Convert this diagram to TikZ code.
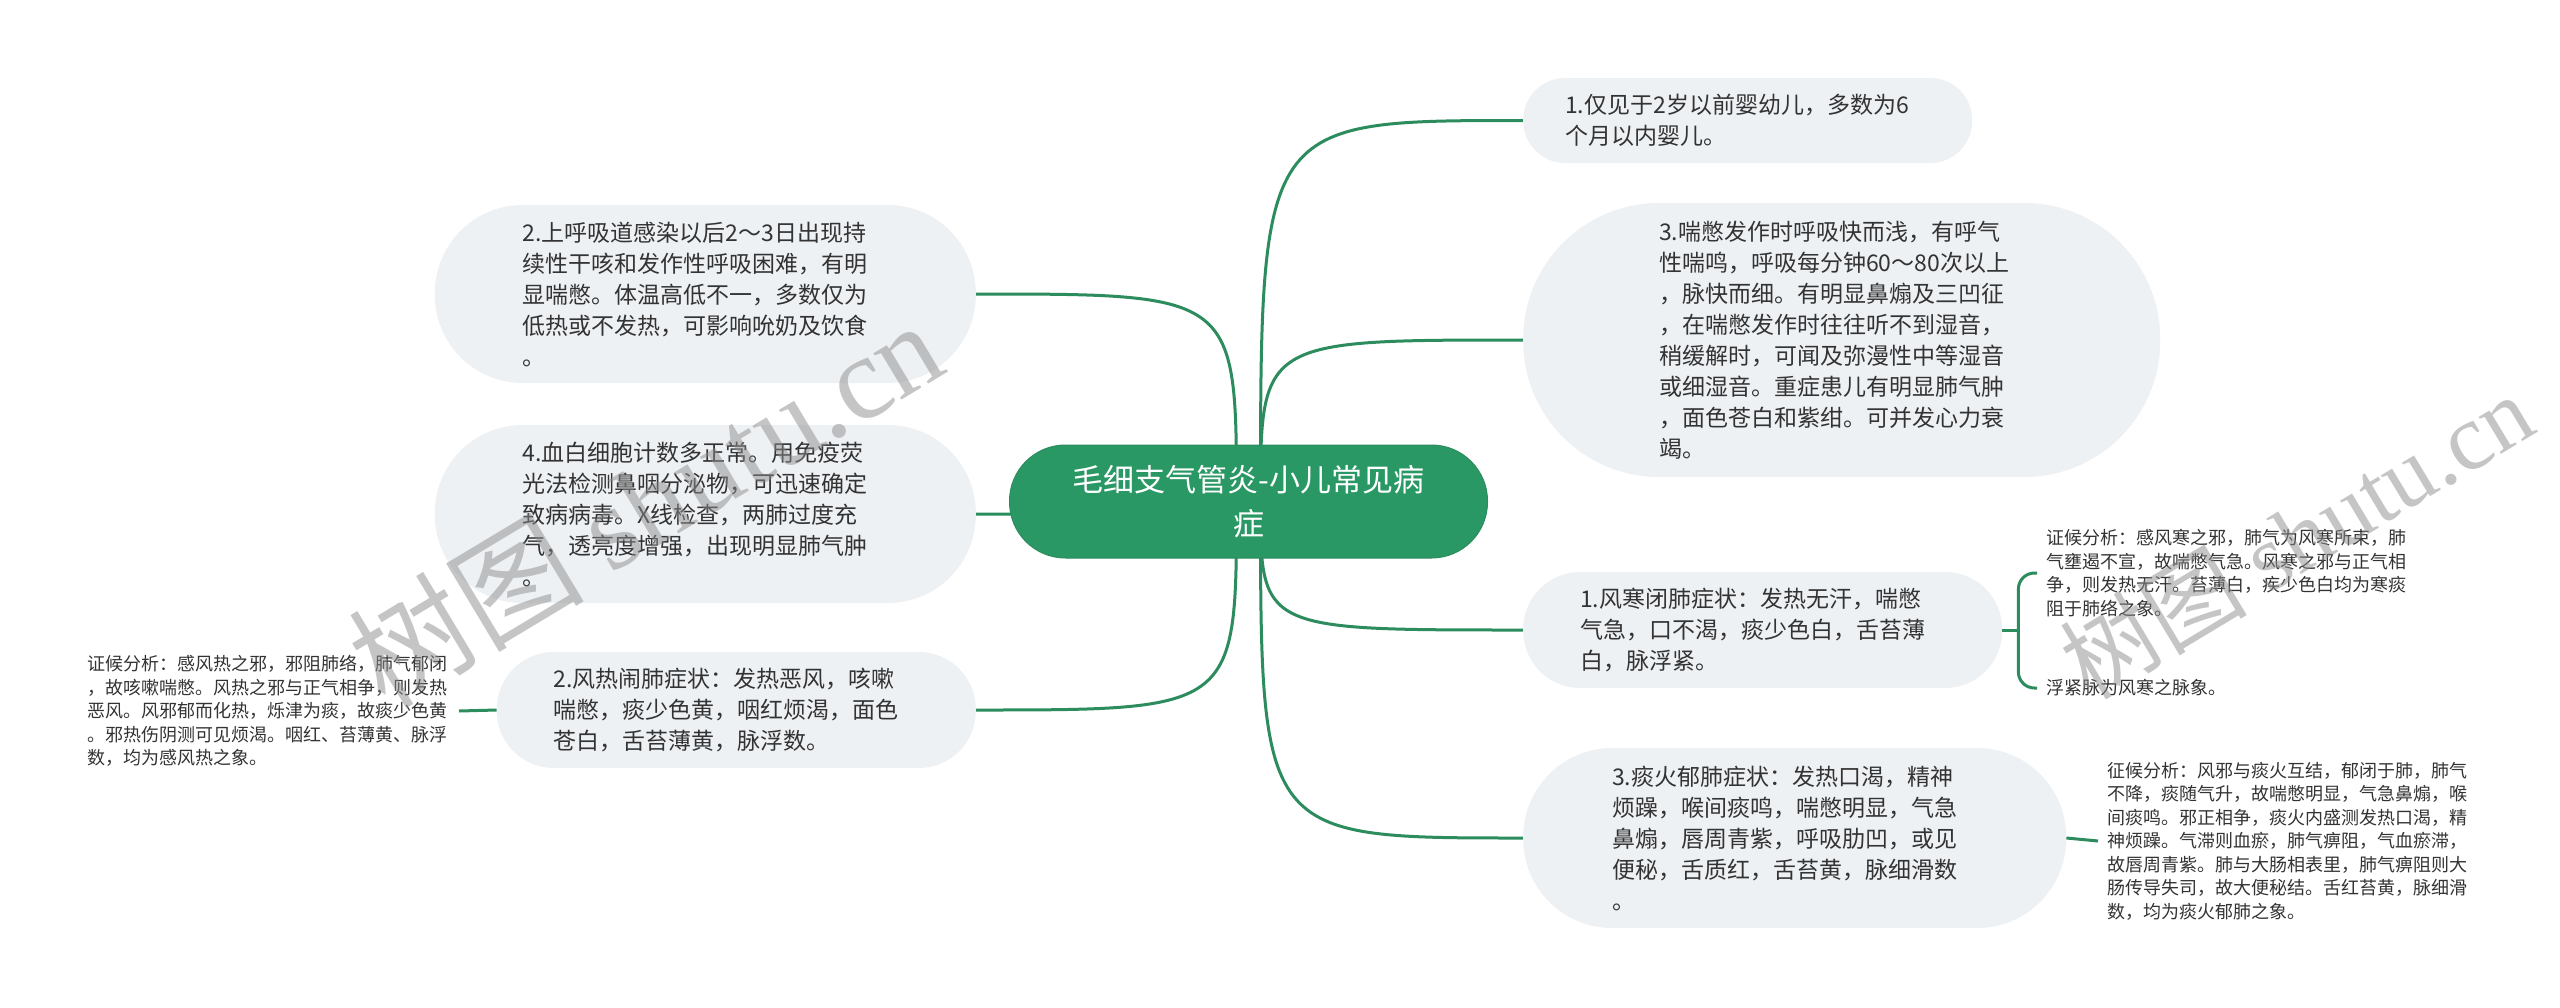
\documentclass[tikz,border=0pt]{standalone}
\usepackage{fontspec}
\setmainfont{Noto Sans CJK SC}
\newfontfamily\latinserif{Liberation Serif}
\usepackage{tikz}
\usetikzlibrary{backgrounds}

\definecolor{linkgreen}{HTML}{2C8C5E}
\definecolor{rootgreen}{HTML}{2A9865}
\definecolor{bubblegray}{HTML}{EEF1F4}
\definecolor{inkgray}{HTML}{333333}

\begin{document}
\begin{tikzpicture}[
        x=1pt, y=-1pt,
        bubble/.style 2 args={
            minimum height=#1,
            rounded corners=#2,
            inner xsep=#2
        },
        root/.style={
            draw=linkgreen,
            line width=1pt,
            fill=rootgreen,
            text=white,
            align=center,
            text width=366pt,
            font=\fontsize{31}{44}\selectfont
        },
        topic/.style={
            fill=bubblegray,
            text=inkgray,
            align=left,
            text width=365pt,
            inner ysep=8pt,
            font=\fontsize{23}{31}\selectfont
        },
        note/.style={
            text=inkgray,
            align=left,
            text width=362pt,
            inner xsep=9pt,
            font=\fontsize{18}{23.5}\selectfont
        },
        link/.style={draw=linkgreen, line width=3pt},
        wmark/.style={
            text=black!45,
            text opacity=0.5,
            rotate=31
        }
    ]
        \useasboundingbox (0,0) rectangle (2560,1007);

        \node[root, bubble={113pt}{56pt}] (root) at (1248.5,501.5) {毛细支气管炎-小儿常见病\\症};

        \node[topic, bubble={85pt}{42pt}, anchor=west] (infant) at (1523,120.5) {1.仅见于2岁以前婴幼儿，多数为6\\个月以内婴儿。};
        \node[topic, bubble={274pt}{136pt}, anchor=west] (wheeze) at (1523,340) {3.喘憋发作时呼吸快而浅，有呼气\\性喘鸣，呼吸每分钟60～80次以上\\，脉快而细。有明显鼻煽及三凹征\\，在喘憋发作时往往听不到湿音，\\稍缓解时，可闻及弥漫性中等湿音\\或细湿音。重症患儿有明显肺气肿\\，面色苍白和紫绀。可并发心力衰\\竭。};
        \node[topic, bubble={116pt}{57pt}, anchor=west] (cold) at (1523,630) {1.风寒闭肺症状：发热无汗，喘憋\\气急，口不渴，痰少色白，舌苔薄\\白，脉浮紧。};
        \node[topic, bubble={180pt}{89pt}, anchor=west] (phlegm) at (1523,838) {3.痰火郁肺症状：发热口渴，精神\\烦躁，喉间痰鸣，喘憋明显，气急\\鼻煽，唇周青紫，呼吸肋凹，或见\\便秘，舌质红，舌苔黄，脉细滑数\\。};

        \node[topic, bubble={178pt}{88pt}, anchor=east] (onset) at (976,294) {2.上呼吸道感染以后2～3日出现持\\续性干咳和发作性呼吸困难，有明\\显喘憋。体温高低不一，多数仅为\\低热或不发热，可影响吮奶及饮食\\。};
        \node[topic, bubble={178pt}{88pt}, anchor=east] (blood) at (976,514) {4.血白细胞计数多正常。用免疫荧\\光法检测鼻咽分泌物，可迅速确定\\致病病毒。X线检查，两肺过度充\\气，透亮度增强，出现明显肺气肿\\。};
        \node[topic, bubble={116pt}{57pt}, anchor=east] (heat) at (976,710) {2.风热闹肺症状：发热恶风，咳嗽\\喘憋，痰少色黄，咽红烦渴，面色\\苍白，舌苔薄黄，脉浮数。};

        % notes
        \node[note, anchor=east] (heatnote) at (459,711) {证候分析：感风热之邪，邪阻肺络，肺气郁闭\\，故咳嗽喘憋。风热之邪与正气相争，则发热\\恶风。风邪郁而化热，烁津为痰，故痰少色黄\\。邪热伤阴测可见烦渴。咽红、苔薄黄、脉浮\\数，均为感风热之象。};
        \node[note, anchor=west] (coldnote) at (2037,573) {证候分析：感风寒之邪，肺气为风寒所束，肺\\气壅遏不宣，故喘憋气急。风寒之邪与正气相\\争，则发热无汗。苔薄白，疾少色白均为寒痰\\阻于肺络之象。};
        \node[note, anchor=west] (coldpulse) at (2037,688) {浮紧脉为风寒之脉象。};
        \node[note, anchor=west] (phlegmnote) at (2098,841) {征候分析：风邪与痰火互结，郁闭于肺，肺气\\不降，痰随气升，故喘憋明显，气急鼻煽，喉\\间痰鸣。邪正相争，痰火内盛测发热口渴，精\\神烦躁。气滞则血瘀，肺气痹阻，气血瘀滞，\\故唇周青紫。肺与大肠相表里，肺气痹阻则大\\肠传导失司，故大便秘结。舌红苔黄，脉细滑\\数，均为痰火郁肺之象。};

        \coordinate (hubr) at ([xshift=12pt]root.center);
        \coordinate (hubl) at ([xshift=-12pt]root.center);
        \begin{scope}[on background layer]
            \fill[white] (0,0) rectangle (2560,1007);
            \foreach \target in {infant,wheeze,cold,phlegm} {
                \draw[link] (hubr) .. controls (hubr |- \target.west) .. (\target.west);
            }
            \foreach \target in {onset,blood,heat} {
                \draw[link] (hubl) .. controls (hubl |- \target.east) .. (\target.east);
            }
        \end{scope}

        \draw[link] (heat.west) -- (heatnote.east);
        \draw[link] (phlegm.east) -- (phlegmnote.west);
        \coordinate (coldfork) at ([xshift=16pt]cold.east);
        \draw[link] (cold.east) -- (coldfork);
        \draw[link, rounded corners=16pt] (coldnote.west) -| (coldfork) |- (coldpulse.west);

        % watermark
        \node[wmark, font=\fontsize{118}{118}\selectfont] (markleft) at (645,502) {树图 {\latinserif shutu.cn}};
        \node[wmark, font=\fontsize{94}{94}\selectfont] (markright) at (2296,536) {树图 {\latinserif shutu.cn}};
    \end{tikzpicture}
\end{document}
